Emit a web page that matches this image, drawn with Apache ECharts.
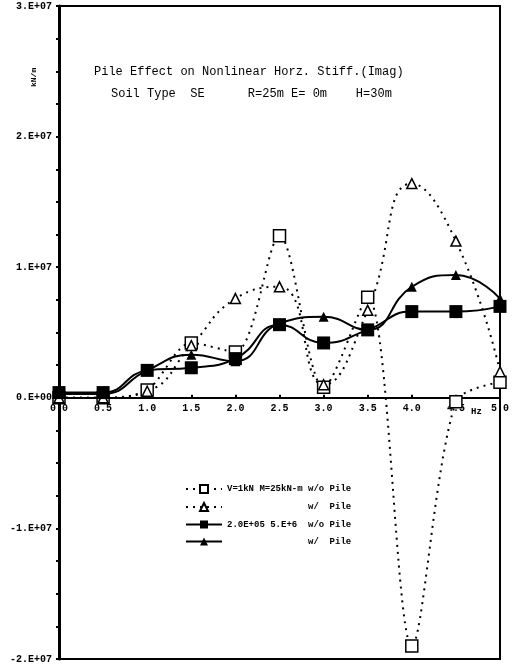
<!DOCTYPE html>
<html>
<head>
<meta charset="utf-8">
<script src="https://cdn.jsdelivr.net/npm/echarts@6/dist/echarts.min.js"></script>
<style>
  html, body { margin: 0; padding: 0; background: #fff; }
  #chart { width: 521px; height: 670px; }
</style>
</head>
<body>
<div id="chart"></div>
<script>
// Frequency points (Hz)
const freq = [0.0, 0.5, 1.0, 1.5, 2.0, 2.5, 3.0, 3.5, 4.0, 4.5, 5.0];

// Imaginary horizontal stiffness (kN/m)
const lowWoPile  = [0.0, 0.0, 0.06e7, 0.42e7, 0.35e7, 1.24e7, 0.08e7, 0.77e7, -1.90e7, -0.03e7, 0.12e7];
const lowWPile   = [0.0, 0.0, 0.05e7, 0.40e7, 0.76e7, 0.85e7, 0.10e7, 0.67e7, 1.64e7, 1.20e7, 0.20e7];
const highWoPile = [0.04e7, 0.04e7, 0.21e7, 0.23e7, 0.30e7, 0.56e7, 0.42e7, 0.52e7, 0.66e7, 0.66e7, 0.70e7];
const highWPile  = [0.03e7, 0.03e7, 0.21e7, 0.33e7, 0.28e7, 0.57e7, 0.62e7, 0.52e7, 0.85e7, 0.94e7, 0.76e7];

const yTickLabels = ['-2.E+07', '-1.E+07', '0.E+00', '1.E+07', '2.E+07', '3.E+07'];
const seriesNames = ['V=1kN M=25kN-m w/o Pile', 'V=1kN M=25kN-m w/ Pile', '2.0E+05 5.E+6 w/o Pile', '2.0E+05 5.E+6 w/ Pile'];
const legendLeft  = ['V=1kN M=25kN-m', '', '2.0E+05 5.E+6', ''];
const legendRight = ['w/o Pile', 'w/  Pile', 'w/o Pile', 'w/  Pile'];

const MONO = '"Liberation Mono", "DejaVu Sans Mono", monospace';

// Plot box
const GRID = { left: 59, right: 21, top: 6, bottom: 11 };
const Y_MIN = -2e7, Y_MAX = 3e7;
const plotH = 670 - GRID.top - GRID.bottom;
// lift the x axis (line, ticks, labels) from the bottom edge up to y = 0
const xAxisOffset = -plotH * (0 - Y_MIN) / (Y_MAX - Y_MIN);

function pairs(ys) { return freq.map((x, i) => [x, ys[i]]); }

const dotted = { color: '#000', width: 2, type: [2, 5] };
const solid  = { color: '#000', width: 2, type: 'solid' };

const chart = echarts.init(document.getElementById('chart'), null, { renderer: 'canvas' });

chart.setOption({
  backgroundColor: '#fff',
  animation: false,
  title: [
    {
      text: 'Pile Effect on Nonlinear Horz. Stiff.(Imag)',
      left: 89, top: 61,
      textStyle: { fontFamily: MONO, fontSize: 12, fontWeight: 'normal', color: '#000' }
    },
    {
      text: 'Soil Type  SE      R=25m E= 0m    H=30m',
      left: 106, top: 83,
      textStyle: { fontFamily: MONO, fontSize: 12, fontWeight: 'normal', color: '#000' }
    }
  ],
  grid: Object.assign({
    show: true, borderColor: '#000', borderWidth: 2, backgroundColor: 'transparent'
  }, GRID),
  legend: {
    orient: 'vertical',
    left: 180, top: 479,
    itemWidth: 36, itemHeight: 10, itemGap: 8,
    data: seriesNames,
    formatter: function (name) {
      const i = seriesNames.indexOf(name);
      return '{a|' + legendLeft[i] + '}{b|' + legendRight[i] + '}';
    },
    textStyle: {
      fontFamily: MONO, fontSize: 9, fontWeight: 'bold', color: '#000',
      rich: {
        a: { fontFamily: MONO, fontSize: 9, fontWeight: 'bold', width: 81 },
        b: { fontFamily: MONO, fontSize: 9, fontWeight: 'bold' }
      }
    }
  },
  xAxis: {
    type: 'value', min: 0, max: 5, interval: 0.5,
    position: 'bottom', offset: xAxisOffset,
    axisLine: { onZero: false, lineStyle: { color: '#000', width: 2 } },
    axisTick: { show: true, inside: true, length: 3, lineStyle: { color: '#000', width: 2 } },
    axisLabel: {
      color: '#000', fontFamily: MONO, fontSize: 10, fontWeight: 'bold', margin: 6,
      formatter: v => v.toFixed(1)
    },
    splitLine: { show: false }
  },
  yAxis: {
    type: 'value', min: Y_MIN, max: Y_MAX, interval: 1e7,
    axisLine: { show: true, lineStyle: { color: '#000', width: 3 } },
    axisTick: { show: true, length: 3, lineStyle: { color: '#000', width: 2 } },
    minorTick: { show: true, splitNumber: 4, length: 3, lineStyle: { color: '#000', width: 2 } },
    axisLabel: {
      color: '#000', fontFamily: MONO, fontSize: 10, fontWeight: 'bold', margin: 7,
      formatter: v => yTickLabels[Math.round(v / 1e7) + 2]
    },
    splitLine: { show: false }
  },
  graphic: [
    {
      type: 'text', x: 30, y: 87, rotation: Math.PI / 2,
      style: { text: 'kN/m', fontFamily: MONO, fontSize: 8, fontWeight: 'bold', fill: '#000' }
    },
    {
      type: 'text', x: 471, y: 407,
      style: { text: 'Hz', fontFamily: MONO, fontSize: 9, fontWeight: 'bold', fill: '#000' }
    }
  ],
  series: [
    {
      name: seriesNames[0], type: 'line', smooth: 0.3, data: pairs(lowWoPile),
      symbol: 'rect', symbolSize: 12,
      lineStyle: dotted,
      itemStyle: { color: '#fff', borderColor: '#000', borderWidth: 1.5 }
    },
    {
      name: seriesNames[1], type: 'line', smooth: 0.5, data: pairs(lowWPile),
      symbol: 'triangle', symbolSize: 10,
      lineStyle: dotted,
      itemStyle: { color: '#fff', borderColor: '#000', borderWidth: 1.5 }
    },
    {
      name: seriesNames[2], type: 'line', smooth: true, data: pairs(highWoPile),
      symbol: 'rect', symbolSize: 13,
      lineStyle: solid,
      itemStyle: { color: '#000', borderColor: '#000', borderWidth: 0 }
    },
    {
      name: seriesNames[3], type: 'line', smooth: true, data: pairs(highWPile),
      symbol: 'triangle', symbolSize: 10,
      lineStyle: solid,
      itemStyle: { color: '#000', borderColor: '#000', borderWidth: 0 }
    }
  ]
});
</script>
</body>
</html>
